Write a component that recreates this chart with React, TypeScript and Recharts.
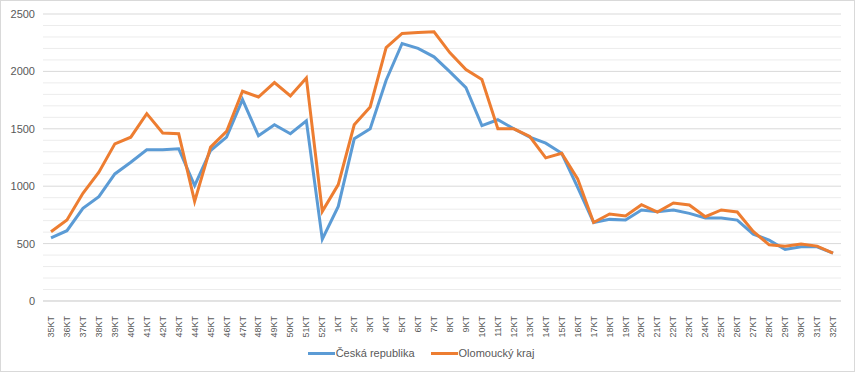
import { CartesianGrid, Legend, Line, LineChart, ReferenceLine, XAxis, YAxis } from "recharts";

const weeks = [
  "35KT", "36KT", "37KT", "38KT", "39KT", "40KT", "41KT", "42KT", "43KT", "44KT",
  "45KT", "46KT", "47KT", "48KT", "49KT", "50KT", "51KT", "52KT", "1KT", "2KT",
  "3KT", "4KT", "5KT", "6KT", "7KT", "8KT", "9KT", "10KT", "11KT", "12KT",
  "13KT", "14KT", "15KT", "16KT", "17KT", "18KT", "19KT", "20KT", "21KT", "22KT",
  "23KT", "24KT", "25KT", "26KT", "27KT", "28KT", "29KT", "30KT", "31KT", "32KT",
];

const ceskaRepublika = [
  550, 612, 807, 909, 1107, 1209, 1317, 1317, 1326, 1005,
  1311, 1427, 1754, 1439, 1535, 1457, 1570, 539, 824, 1413,
  1500, 1923, 2243, 2200, 2127, 1996, 1859, 1527, 1579, 1500,
  1427, 1375, 1287, 990, 684, 711, 705, 793, 778, 793,
  763, 723, 723, 705, 583, 530, 449, 472, 472, 417,
];

const olomouckyKraj = [
  603, 705, 938, 1122, 1369, 1427, 1632, 1463, 1457, 868,
  1340, 1477, 1827, 1777, 1903, 1786, 1943, 781, 1014, 1535,
  1690, 2208, 2331, 2339, 2345, 2162, 2016, 1929, 1500, 1500,
  1433, 1247, 1287, 1064, 684, 758, 740, 839, 775, 854,
  836, 734, 793, 775, 606, 489, 478, 496, 478, 417,
];

const yTicks = [0, 500, 1000, 1500, 2000, 2500];
const minorLines = [100, 200, 300, 400, 600, 700, 800, 900, 1100, 1200, 1300, 1400, 1600, 1700, 1800, 1900, 2100, 2200, 2300, 2400];

const series = [
  { key: "cr", name: "Česká republika", color: "#5b9bd5" },
  { key: "olk", name: "Olomoucký kraj", color: "#ed7d31" },
];

const data = weeks.map((week, i) => ({
  week,
  cr: ceskaRepublika[i],
  olk: olomouckyKraj[i],
}));

const FONT = "'Liberation Sans', Arial, sans-serif";

const WeekTick = ({ x, y, payload }: any) => (
  <text
    x={0}
    y={0}
    transform={`translate(${x + 3},${y + 7}) rotate(-90)`}
    textAnchor="end"
    fontSize={9}
    fill="#595959"
    fontFamily={FONT}
  >
    {payload.value}
  </text>
);

const LegendContent = () => (
  <div
    style={{
      display: "flex",
      justifyContent: "center",
      gap: 16,
      paddingTop: 6,
      fontFamily: FONT,
      fontSize: 11,
      color: "#595959",
    }}
  >
    {series.map((s) => (
      <div key={s.key} style={{ display: "flex", alignItems: "center" }}>
        <span style={{ display: "inline-block", width: 27, height: 3, background: s.color, marginRight: 1 }} />
        <span>{s.name}</span>
      </div>
    ))}
  </div>
);

export default function App() {
  return (
    <div
      style={{
        position: "absolute",
        left: 0,
        top: 0,
        width: 853,
        height: 370,
        border: "1px solid #d9d9d9",
        background: "#fff",
      }}
    >
      <LineChart
        width={853}
        height={370}
        data={data}
        margin={{ top: 13, right: 13, bottom: 0, left: 0 }}
      >
        <CartesianGrid vertical={false} stroke="#d9d9d9" />
        {minorLines.map((v) => (
          <ReferenceLine key={v} y={v} stroke="#ececec" ifOverflow="hidden" />
        ))}
        <XAxis
          dataKey="week"
          interval={0}
          tick={<WeekTick />}
          tickLine={false}
          axisLine={{ stroke: "#d9d9d9" }}
          padding={{ left: 8, right: 8 }}
          height={40}
        />
        <YAxis
          domain={[0, 2500]}
          ticks={yTicks}
          width={42}
          axisLine={false}
          tickLine={false}
          tick={{ fontSize: 11, fill: "#595959", fontFamily: FONT }}
        />
        <Legend verticalAlign="bottom" height={30} content={<LegendContent />} />
        {series.map((s) => (
          <Line
            key={s.key}
            name={s.name}
            dataKey={s.key}
            stroke={s.color}
            strokeWidth={3}
            dot={false}
            isAnimationActive={false}
          />
        ))}
      </LineChart>
    </div>
  );
}
